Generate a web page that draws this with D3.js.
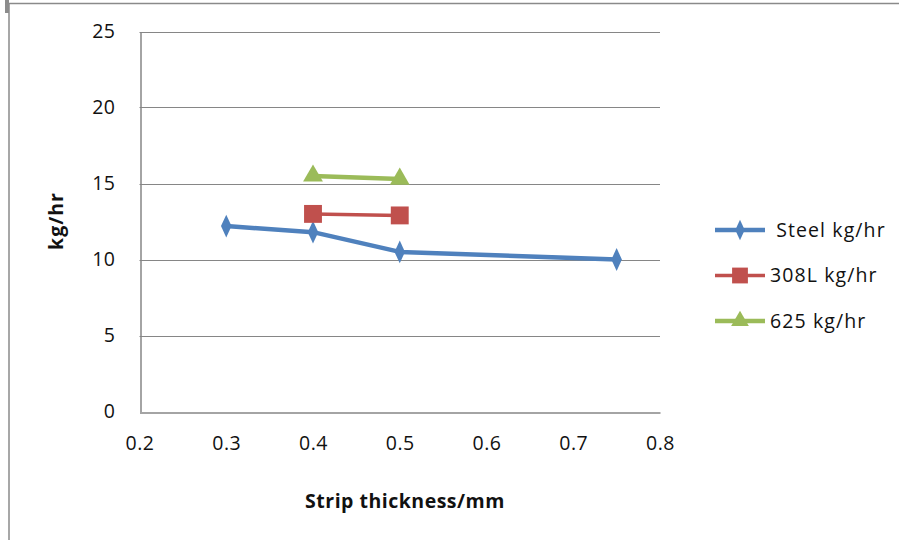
<!DOCTYPE html>
<html>
<head>
<meta charset="utf-8">
<script src="https://cdn.jsdelivr.net/npm/d3@7"></script>
<style>
  html, body { margin: 0; padding: 0; background: #fff; }
  svg { display: block; font-family: "Open Sans", Lato, sans-serif; }
</style>
</head>
<body>
<svg id="chart" width="899" height="540"></svg>
<script>
// Deposition rate against strip thickness
const steelX = [0.3, 0.4, 0.5, 0.75];
const steelY = [12.2, 11.8, 10.5, 10.0];
const l308X = [0.4, 0.5];
const l308Y = [13.0, 12.9];
const a625X = [0.4, 0.5];
const a625Y = [15.5, 15.3];
const seriesNames = [" Steel kg/hr", "308L kg/hr", "625 kg/hr"];
const xTicks = [0.2, 0.3, 0.4, 0.5, 0.6, 0.7, 0.8];
const yTicks = [0, 5, 10, 15, 20, 25];

const colors = ["#4F81BD", "#C0504D", "#9BBB59"];
const svg = d3.select("#chart");

// outer frame
svg.append("line").attr("x1", 9).attr("x2", 899).attr("y1", 3.5).attr("y2", 3.5)
  .attr("stroke", "#8a8a8a").attr("stroke-width", 1.5);
svg.append("line").attr("x1", 9).attr("x2", 9).attr("y1", 3).attr("y2", 540)
  .attr("stroke", "#8a8a8a").attr("stroke-width", 1.5);
svg.append("rect").attr("x", 5).attr("y", 0).attr("width", 4).attr("height", 13).attr("fill", "#8c8c8c");

const x = d3.scaleLinear().domain([0.2, 0.8]).range([139.5, 660]);
const y = d3.scaleLinear().domain([0, 25]).range([411.5, 31.5]);

// gridlines
svg.append("g").selectAll("line").data(yTicks.filter(d => d > 0)).join("line")
  .attr("x1", x(0.2)).attr("x2", x(0.8))
  .attr("y1", d => Math.round(y(d)) + 0.5).attr("y2", d => Math.round(y(d)) + 0.5)
  .attr("stroke", "#868686").attr("stroke-width", 1);

// axes
const xAxis = svg.append("g").attr("transform", `translate(0,${Math.round(y(0)) + 0.5})`)
  .call(d3.axisBottom(x).tickValues(xTicks).tickSize(0).tickPadding(24).tickFormat(d3.format(".1f")));
const yAxis = svg.append("g").attr("transform", `translate(${Math.round(x(0.2)) + 0.5},0)`)
  .call(d3.axisLeft(y).tickValues(yTicks).tickSize(0).tickPadding(25));
[xAxis, yAxis].forEach(a => {
  a.select(".domain").attr("stroke", "#868686").attr("stroke-width", 1.5);
  a.selectAll("text").attr("font-family", "'Open Sans', sans-serif").attr("font-size", 19.5)
    .attr("letter-spacing", 0.5).attr("fill", "#111");
});

// axis titles
svg.append("text").attr("x", 405).attr("y", 508).attr("text-anchor", "middle")
  .attr("font-weight", "bold").attr("font-size", 19.5).attr("letter-spacing", 0.5).attr("fill", "#111")
  .text("Strip thickness/mm");
svg.append("text").attr("transform", "translate(63,221) rotate(-90)").attr("text-anchor", "middle")
  .attr("font-weight", "bold").attr("font-size", 19.5).attr("letter-spacing", 1).attr("fill", "#111")
  .text("kg/hr");

const line = d3.line().x(d => x(d[0])).y(d => y(d[1]));
const series = [
  { xs: steelX, ys: steelY, sym: d3.symbolDiamond, size: 150, w: 4.5 },
  { xs: l308X, ys: l308Y, sym: d3.symbolSquare, size: 320, w: 3.5 },
  { xs: a625X, ys: a625Y, sym: d3.symbolTriangle, size: 170, w: 4.5 }
];

series.forEach((s, i) => {
  const pts = s.xs.map((v, j) => [v, s.ys[j]]);
  svg.append("path").datum(pts).attr("d", line).attr("fill", "none")
    .attr("stroke", colors[i]).attr("stroke-width", s.w).attr("stroke-linejoin", "round");
  svg.append("g").selectAll("path").data(pts).join("path")
    .attr("transform", d => `translate(${x(d[0])},${y(d[1])})` + (s.sym === d3.symbolDiamond ? " scale(0.8,1)" : ""))
    .attr("d", d3.symbol(s.sym, s.size)).attr("fill", colors[i]);
});

// legend
const legY = [230, 275.5, 321];
series.forEach((s, i) => {
  const g = svg.append("g").attr("transform", `translate(0,${legY[i]})`);
  g.append("line").attr("x1", 715).attr("x2", 765).attr("y1", 0).attr("y2", 0)
    .attr("stroke", colors[i]).attr("stroke-width", s.w);
  g.append("path").attr("transform", "translate(740,0)" + (s.sym === d3.symbolDiamond ? " scale(0.8,1)" : ""))
    .attr("d", d3.symbol(s.sym, s.sym === d3.symbolSquare ? 250 : s.size * 0.8)).attr("fill", colors[i]);
  g.append("text").attr("x", 770).attr("y", 0).attr("dy", "0.35em")
    .attr("font-size", 19.5).attr("letter-spacing", 1.1).attr("fill", "#111").attr("xml:space", "preserve")
    .style("white-space", "pre")
    .text(seriesNames[i]);
});
</script>
</body>
</html>
